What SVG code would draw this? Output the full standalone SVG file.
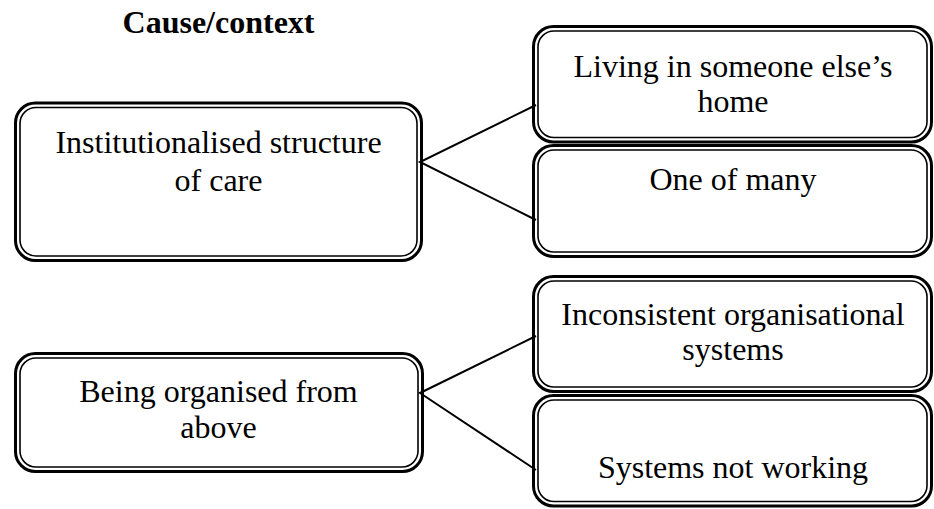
<svg xmlns="http://www.w3.org/2000/svg" width="934" height="509" viewBox="0 0 934 509">
<style>
.o{fill:none;stroke:#000;stroke-width:3}
.i{fill:none;stroke:#000;stroke-width:1.6}
.t{font-family:"Liberation Serif","Times New Roman",serif;font-size:32px;fill:#000;text-anchor:middle}
.h{font-weight:bold}
.c{stroke:#000;stroke-width:2;fill:none}
</style>
<rect width="934" height="509" fill="#fff"/>
<text class="t h" x="218.5" y="33">Cause/context</text>
<g id="connectors">
<polyline class="c" points="536,105 420,162 536,220"/>
<polyline class="c" points="536,336 420,393 536,470"/>
</g>
<g id="institutionalised">
<rect class="o" x="15.5" y="103" width="406" height="157.5" rx="20"/>
<rect class="i" x="20" y="107.5" width="397" height="148.5" rx="16"/>
<text class="t" x="218.5" y="153">Institutionalised structure</text>
<text class="t" x="218.5" y="191">of care</text>
</g>
<g id="organised">
<rect class="o" x="15.5" y="353.5" width="407" height="118" rx="20"/>
<rect class="i" x="20" y="358" width="398" height="109" rx="16"/>
<text class="t" x="218.5" y="402">Being organised from</text>
<text class="t" x="218.5" y="438">above</text>
</g>
<g id="living">
<rect class="o" x="533.5" y="26.5" width="398" height="115.5" rx="20"/>
<rect class="i" x="538" y="31" width="389" height="106.5" rx="16"/>
<text class="t" x="733" y="77">Living in someone else’s</text>
<text class="t" x="733" y="112">home</text>
</g>
<g id="onemany">
<rect class="o" x="533.5" y="145.5" width="398" height="111" rx="20"/>
<rect class="i" x="538" y="150" width="389" height="102" rx="16"/>
<text class="t" x="733" y="190">One of many</text>
</g>
<g id="inconsistent">
<rect class="o" x="533.5" y="276.5" width="398" height="115" rx="20"/>
<rect class="i" x="538" y="281" width="389" height="106" rx="16"/>
<text class="t" x="733" y="325">Inconsistent organisational</text>
<text class="t" x="733" y="360">systems</text>
</g>
<g id="systems">
<rect class="o" x="533.5" y="395.5" width="398" height="110.5" rx="20"/>
<rect class="i" x="538" y="400" width="389" height="101.5" rx="16"/>
<text class="t" x="733" y="478">Systems not working</text>
</g>
</svg>
